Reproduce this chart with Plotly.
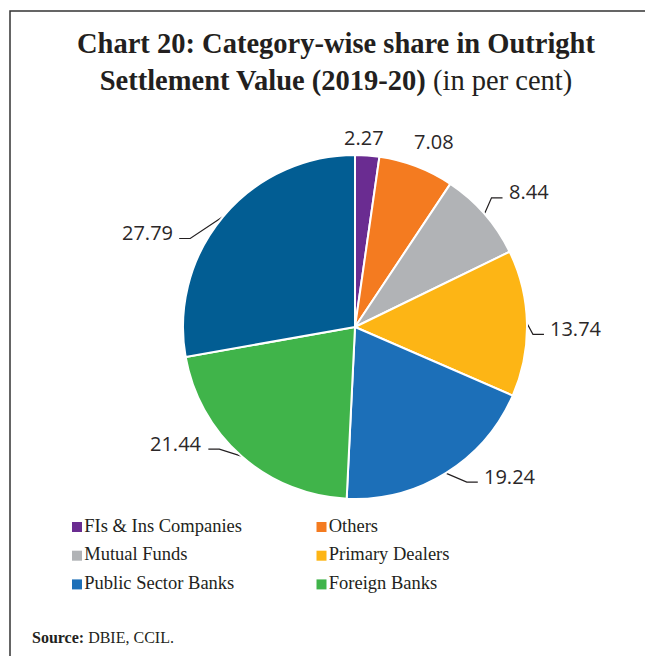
import math
import plotly.graph_objects as go

# ---------------- data ----------------
categories = ["FIs & Ins Companies", "Others", "Mutual Funds", "Primary Dealers",
              "Public Sector Banks", "Foreign Banks", "Private Sector Banks"]
shares = [2.27, 7.08, 8.44, 13.74, 19.24, 21.44, 27.79]
label_text = ["2.27", "7.08", "8.44", "13.74", "19.24", "21.44", "27.79"]
legend_categories = ["FIs & Ins Companies", "Others", "Mutual Funds",
                     "Primary Dealers", "Public Sector Banks", "Foreign Banks"]

# ---------------- styles ----------------
colors = ["#6A2C91", "#F47B20", "#B1B3B6", "#FDB515", "#1C6FB8", "#40B44A", "#025D93"]
has_leader = [False, False, True, True, True, True, True]
# label nudges for labels without leader (pixels)
label_nudge = [(-5, 2), (10, -6), (0, 0), (0, 0), (0, 0), (0, 0), (0, 0)]
# first leader segment: offset from the slice edge to the elbow (pixels)
leader_bend = [(0, 0), (0, 0), (7, -16), (6, 11), (21, 9), (-22, -7), (-33, 22)]
LEADER_TAIL = 11

W, H = 653, 656
OFF = 8                              # page body margin
def fx(px): return px - OFF          # page pixel -> figure pixel
def fy(py): return py - OFF
def paper_x(px): return (px - OFF) / W
def paper_y(py): return 1 - (py - OFF) / H

CX, CY, R = fx(355), fy(327), 172    # pie centre / radius (figure pixels)
LABEL_FONT = dict(family="Open Sans, Liberation Sans, sans-serif", size=20, color="#2B2728")
SERIF = "Liberation Serif, DejaVu Serif, serif"

fig = go.Figure()

fig.add_trace(go.Pie(
    labels=categories, values=shares, sort=False, direction="clockwise", rotation=0,
    marker=dict(colors=colors, line=dict(color="white", width=2)),
    textinfo="none", hoverinfo="label+value", showlegend=False,
    domain=dict(x=[(CX - R) / W, (CX + R) / W], y=[1 - (CY + R) / H, 1 - (CY - R) / H]),
))

# ---------------- labels & leader lines (computed from the values) ----------------
total = sum(shares)
cum = 0.0
annotations = []
for v, txt, lead, (nx, ny), (bdx, bdy) in zip(shares, label_text, has_leader,
                                               label_nudge, leader_bend):
    mid = (cum + v / 2) / total * 2 * math.pi
    cum += v
    s, c = math.sin(mid), -math.cos(mid)   # pixel direction (y down)
    if lead:
        ex, ey = CX + R * s, CY + R * c
        bx, by = ex + bdx, ey + bdy
        sign = 1 if s >= 0 else -1
        hx = bx + sign * LEADER_TAIL
        fig.add_trace(go.Scatter(x=[ex, bx, hx], y=[ey, by, by], mode="lines",
                                 line=dict(color="#231F20", width=1.2),
                                 showlegend=False, hoverinfo="skip"))
        annotations.append(dict(x=hx + sign * 4, y=by - 6, xref="x", yref="y",
                                text=txt, showarrow=False, font=LABEL_FONT,
                                xanchor="left" if sign > 0 else "right", yanchor="middle"))
    else:
        lx, ly = CX + (R + 20) * s + nx, CY + (R + 20) * c + ny
        annotations.append(dict(x=lx, y=ly, xref="x", yref="y", text=txt,
                                showarrow=False, font=LABEL_FONT,
                                xanchor="center", yanchor="middle"))

# ---------------- custom legend (2 columns) ----------------
LEG_X0, LEG_COLW, LEG_Y0, LEG_ROWH = fx(77), 244.5, fy(527), 28.7
for i, name in enumerate(legend_categories):
    col, row = i % 2, i // 2
    fig.add_trace(go.Scatter(
        x=[LEG_X0 + col * LEG_COLW], y=[LEG_Y0 + row * LEG_ROWH],
        mode="markers+text", text=[name], textposition="middle right",
        marker=dict(symbol="square", size=10, color=colors[categories.index(name)]),
        textfont=dict(family=SERIF, size=18.5, color="#231F20"),
        showlegend=False, hoverinfo="skip"))

annotations.append(dict(
    x=paper_x(336), y=paper_y(26), xref="paper", yref="paper", xanchor="center", yanchor="top",
    text="<b>Chart 20: Category-wise share in Outright</b><br><b>Settlement Value (2019-20)</b> (in per cent)",
    showarrow=False, font=dict(family=SERIF, size=28.5, color="#231F20"), align="center"))
annotations.append(dict(
    x=paper_x(30), y=paper_y(637), xref="paper", yref="paper", xanchor="left", yanchor="middle",
    text="<b>Source:</b> DBIE, CCIL.", showarrow=False,
    font=dict(family=SERIF, size=16, color="#231F20")))

fig.update_layout(
    width=W, height=H, margin=dict(l=0, r=0, t=0, b=0),
    paper_bgcolor="white", plot_bgcolor="rgba(0,0,0,0)",
    xaxis=dict(range=[0, W], visible=False, fixedrange=True),
    yaxis=dict(range=[H, 0], visible=False, fixedrange=True),
    annotations=annotations,
    shapes=[dict(type="rect", xref="paper", yref="paper",
                 x0=paper_x(10), x1=1.05, y0=-0.05, y1=paper_y(11),
                 line=dict(color="#333333", width=1.5), layer="above")],
)

fig.write_html("out.html")
